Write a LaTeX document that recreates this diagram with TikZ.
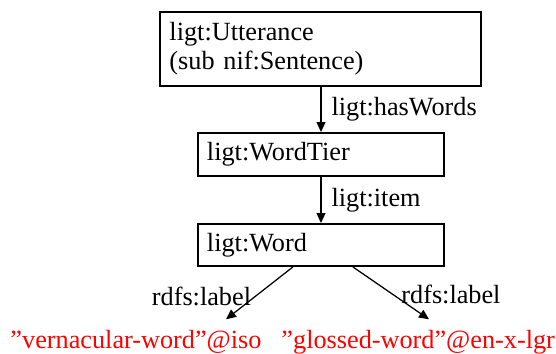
\documentclass[tikz,border=0pt]{standalone}
\usepackage{fontspec}
\setmainfont{Liberation Serif}
\usetikzlibrary{arrows.meta}

\begin{document}
\begin{tikzpicture}[x=0.4pt,y=0.4pt,yscale=-1,xscale=1,
  every node/.style={font=\fontsize{10.5}{11.6}\selectfont},
  classbox/.style={draw, line width=0.8pt, align=left, inner xsep=3.6pt, inner ysep=0pt},
  propline/.style={line width=0.5pt, -{Triangle[length=4pt,width=3.6pt]}},
  proplabel/.style={inner sep=4pt},
  literal/.style={text=red, inner xsep=0pt, inner ysep=4pt}]
\useasboundingbox (0,0) rectangle (556,354);

%Shape: Rectangle [utterance]
\node [classbox, text width=121.2pt, minimum height=29.6pt] (utt) at (321,49) {ligt:Utterance\\(sub nif:Sentence)};
%Shape: Rectangle [word tier]
\node [classbox, text width=91.2pt, minimum height=17.2pt] (tier) at (321,154.5) {ligt:WordTier};
%Shape: Rectangle [word]
\node [classbox, text width=91.2pt, minimum height=16.8pt] (word) at (321,245) {ligt:Word};

% Text Node
\node [literal, anchor=base west] (vern) at (10,348) {”vernacular-word”@iso};
% Text Node
\node [literal, anchor=base west] (gloss) at (281,348) {”glossed-word”@en-x-lgr};

%Straight Lines
\draw [propline] (utt.south) -- (tier.north) node [midway, right, proplabel] (haswords) {ligt:hasWords};
%Straight Lines
\draw [propline] (tier) -- (word) node [midway, right, proplabel] (item) {ligt:item};
%Straight Lines
\draw [propline] (word) -- ([xshift=86.4pt]vern.north west) node [pos=0.56, left, proplabel, inner sep=1.5pt] (labela) {rdfs:label};
%Straight Lines
\draw [propline] (word) -- ([xshift=59.2pt]gloss.north west) node [pos=0.53, right, proplabel, inner sep=3pt] (labelb) {rdfs:label};

\end{tikzpicture}
\end{document}
